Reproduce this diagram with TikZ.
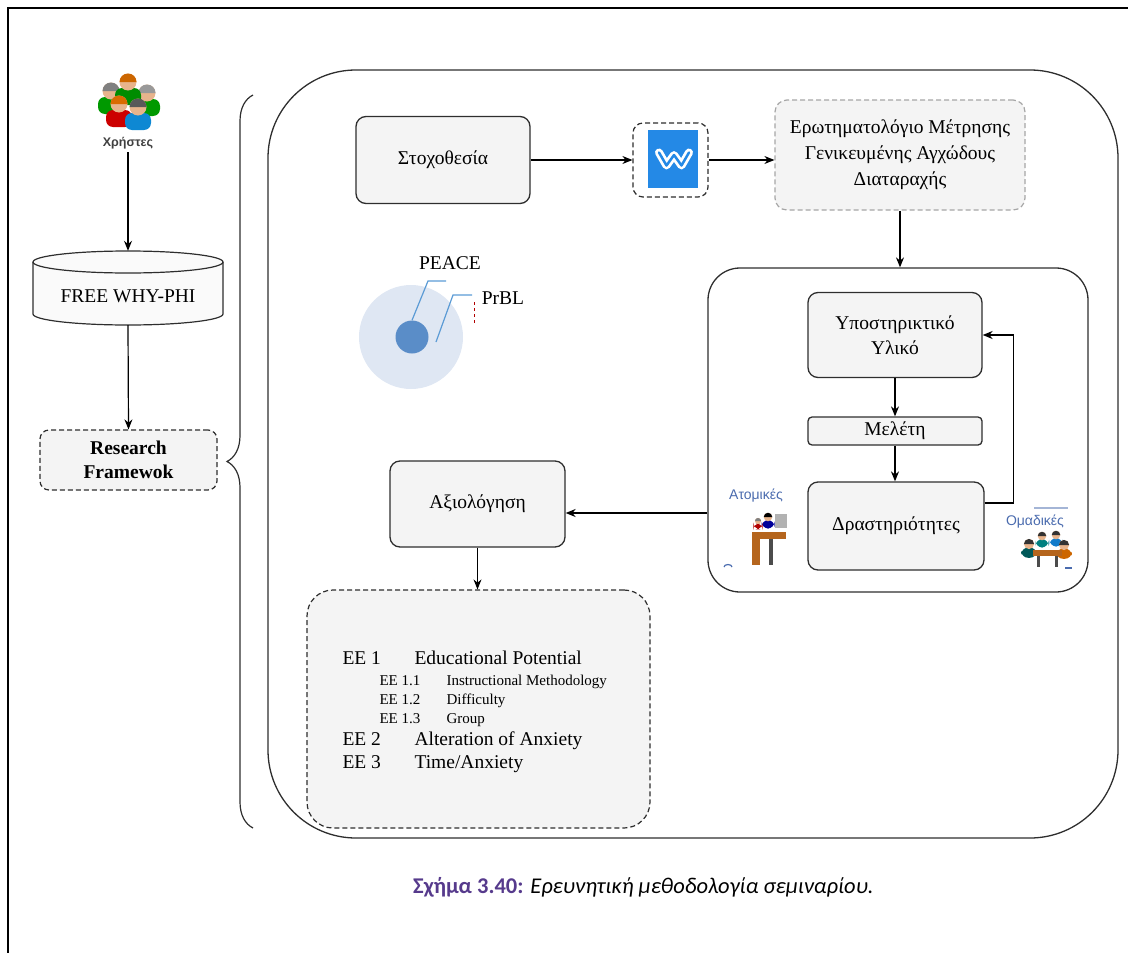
\documentclass[tikz,border=0pt]{standalone}
\usepackage{fontspec}
\setmainfont{Liberation Serif}
\setsansfont{Liberation Sans}
\newfontfamily\captionfont{Carlito}
\usetikzlibrary{arrows.meta,decorations.pathreplacing}

\definecolor{boxgray}{HTML}{F4F4F4}
\definecolor{linegray}{HTML}{2E2E2E}
\definecolor{weeblyblue}{HTML}{2489E6}
\definecolor{peacelight}{HTML}{DFE7F3}
\definecolor{peacedark}{HTML}{5A8DC8}
\definecolor{leader}{HTML}{5B9BD5}
\definecolor{iconblue}{HTML}{4A6BAE}
\definecolor{capviolet}{RGB}{86,58,140}
\definecolor{desk}{HTML}{B5651D}
\definecolor{skin}{HTML}{E8B48C}

\begin{document}
\begin{tikzpicture}[x=1pt, y=-1pt,
    font=\fontsize{19.5}{25}\selectfont,
    panel/.style={draw=linegray, line width=1.3pt},
    task/.style={draw=linegray, line width=1.3pt, fill=boxgray, rounded corners=10pt, align=center},
    dashbox/.style={draw=linegray, line width=1.2pt, dash pattern=on 5pt off 3pt, fill=boxgray, align=center},
    link/.style={-{Stealth[length=10pt,width=8pt]}, line width=1.2pt},
    pics/person/.style 2 args={code={
        \fill[#1, rounded corners=7pt] (-13,6) rectangle (13,23);
        \fill[skin] (0,0) circle (8.5);
        \fill[#2] (-8.5,0) arc[start angle=180, end angle=360, radius=8.5] -- cycle;
    }},
  ]
  \useasboundingbox (0,0) rectangle (1128,953);
  \draw[line width=1.3pt] (8,953) -- (8,8) -- (1128,8);

  % course frame
  \node[panel, rounded corners=88pt, minimum width=850pt, minimum height=768pt] (course) at (693,454) {};

  % users, platform and framework
  \pic at (111,91) {person={green!60!black}{gray}};
  \pic at (147,93) {person={green!60!black}{gray!80}};
  \pic at (128,82) {person={green!55!black}{orange!80!black}};
  \pic at (119,104) {person={red!80!black}{orange!85!black}};
  \pic at (138,107) {person={cyan!70!blue}{gray!70!black}};
  \node[font=\sffamily\bfseries\fontsize{12.5}{14}\selectfont, text=black!75] (users) at (128,143) {Χρήστες};

  \filldraw[draw=linegray, line width=1.2pt, fill=boxgray!50] (33,262) -- (33,314)
    arc[start angle=180, end angle=0, x radius=95, y radius=11] -- (223,262)
    arc[start angle=0, end angle=-180, x radius=95, y radius=11] -- cycle;
  \draw[linegray, line width=1.2pt] (33,262) arc[start angle=180, end angle=0, x radius=95, y radius=11];
  \node[minimum width=190pt, minimum height=74pt] (db) at (128,288) {};
  \node (dbname) at (128,296) {FREE WHY-PHI};
  \node[dashbox, rounded corners=9pt, font=\fontsize{19.5}{24}\selectfont\bfseries, minimum width=177pt, minimum height=60pt, inner sep=3pt] (research) at (128.5,460) {Research\\Framewok};

  \draw[link] (users) -- (db.north);
  \draw[link] (db.south) -- (research.north);

  \draw[linegray, line width=1.2pt, decorate, decoration={brace, amplitude=26pt}] (253,828) -- (253,95);

  % upper row
  \node[task, minimum width=174pt, minimum height=87pt] (goal) at (443,160) {Στοχοθεσία};
  \node[dashbox, fill=white, rounded corners=10pt, minimum width=75pt, minimum height=74pt] (weebly) at (670.5,160) {};
  \fill[weeblyblue] (648,130) rectangle (698,188);
  \draw[white, line width=8pt, line cap=round, line join=round] (659,152.5) -- (666.5,165.5) -- (674,155) -- (681.5,165.5) -- (689,152.5);
  \draw[weeblyblue, line width=2.5pt, line cap=round, line join=round] (659,152.5) -- (666.5,165.5) -- (674,155) -- (681.5,165.5) -- (689,152.5);
  \node[dashbox, draw=gray!70, fill=boxgray, rounded corners=12pt, minimum width=250pt, minimum height=110pt, font=\fontsize{19.5}{26}\selectfont] (scale) at (900,155) {Ερωτηματολόγιο Μέτρησης\\Γενικευμένης Αγχώδους\\Διαταραχής};

  \draw[link] (goal) -- (weebly);
  \draw[link] (weebly) -- (weebly -| scale.west);

  % PEACE / PrBL
  \node[circle, fill=peacelight, minimum size=104pt] (prbl) at (411,337) {};
  \node[circle, fill=peacedark, minimum size=33pt] (peace) at (412,337) {};
  \draw[leader, line width=1.2pt] (peace.north) -- (428,281) -- (446,281);
  \draw[leader, line width=1.2pt] (436,342) -- (453,295) -- (472,295);
  \draw[red!70!black, dashed, line width=0.6pt] (474,302) -- (474,323);
  \node (peacelbl) at (450,263) {PEACE};
  \node (prbllbl) at (503,298) {PrBL};

  % study module
  \node[panel, rounded corners=32pt, minimum width=380pt, minimum height=324pt] (module) at (898,430) {};
  \node[task, minimum width=174pt, minimum height=85pt] (support) at (895,335) {Υποστηρικτικό\\Υλικό};
  \node[task, rounded corners=4pt, minimum width=174pt, minimum height=28pt, inner sep=2pt] (study) at (895,431) {Μελέτη};
  \node[task, minimum width=176pt, minimum height=88pt] (act) at (896,526) {Δραστηριότητες};

  \draw[link] (scale.south) -- (scale.south |- module.north);
  \draw[link] (support) -- (study);
  \draw[link] (study.south) -- (study.south |- act.north);
  \draw[link] ([yshift=23pt]act.east) -- ++(29,0) |- (support.east);

  % individual / group work
  \node[font=\sffamily\fontsize{14}{16}\selectfont, text=iconblue] (solo) at (756,496) {Ατομικές};
  \fill[gray!60] (775,514) rectangle (787,528);
  \pic[scale=0.5] at (768,517) {person={blue!60!black}{black}};
  \pic[scale=0.36] at (758,521) {person={red!70!black}{gray}};
  \fill[desk] (752,532) rectangle (786,539);
  \fill[desk] (752,539) rectangle (760,565);
  \fill[black!70] (769,539) rectangle (773,565);
  \draw[iconblue, line width=1.2pt] (724,567) arc[start angle=180, end angle=360, x radius=4, y radius=2.5];

  \draw[iconblue!50, line width=1.2pt] (1034,508) -- (1068,508);
  \node[font=\sffamily\fontsize{14}{16}\selectfont, text=iconblue] (group) at (1035,522) {Ομαδικές};
  \pic[scale=0.5] at (1042,536) {person={teal}{black!80}};
  \pic[scale=0.5] at (1056,535) {person={cyan!60!blue}{black!80}};
  \pic[scale=0.6] at (1029,544) {person={teal!70!black}{black!80}};
  \pic[scale=0.6] at (1064,545) {person={orange!80!black}{black!80}};
  \fill[desk] (1033,550) rectangle (1062,556);
  \fill[black!70] (1037,556) rectangle (1040,567);
  \fill[black!70] (1055,556) rectangle (1058,567);
  \draw[iconblue, line width=1.2pt] (1065,568) -- (1072,568);

  % evaluation
  \node[task, minimum width=175pt, minimum height=86pt] (eval) at (477.5,504) {Αξιολόγηση};
  \node[dashbox, rounded corners=26pt, minimum width=343pt, minimum height=238pt] (crit) at (478.5,709) {};

  \draw[link] (module.west |- 0,513) -- (eval.east |- 0,513);
  \draw[link] (eval.south) -- (eval.south |- crit.north);

  \node[anchor=base west] (ee1) at (339,664) {EE 1};
  \node[anchor=base west] (ee1t) at (411,664) {Educational Potential};
  \begin{scope}[font=\fontsize{15}{17}\selectfont]
    \node[anchor=base west] (ee11) at (376,685) {EE 1.1};
    \node[anchor=base west] (ee11t) at (443,685) {Instructional Methodology};
    \node[anchor=base west] (ee12) at (376,704) {EE 1.2};
    \node[anchor=base west] (ee12t) at (443,704) {Difficulty};
    \node[anchor=base west] (ee13) at (376,723) {EE 1.3};
    \node[anchor=base west] (ee13t) at (443,723) {Group};
  \end{scope}
  \node[anchor=base west] (ee2) at (339,745) {EE 2};
  \node[anchor=base west] (ee2t) at (411,745) {Alteration of Anxiety};
  \node[anchor=base west] (ee3) at (339,768) {EE 3};
  \node[anchor=base west] (ee3t) at (411,768) {Time/Anxiety};

  % caption
  \node[anchor=base west, inner sep=0pt, font=\captionfont\fontsize{22.5}{26}\selectfont] (caption) at (413,893)
    {\textcolor{capviolet}{\bfseries Σχήμα 3.40:} \itshape Ερευνητική μεθοδολογία σεμιναρίου.};
\end{tikzpicture}
\end{document}
